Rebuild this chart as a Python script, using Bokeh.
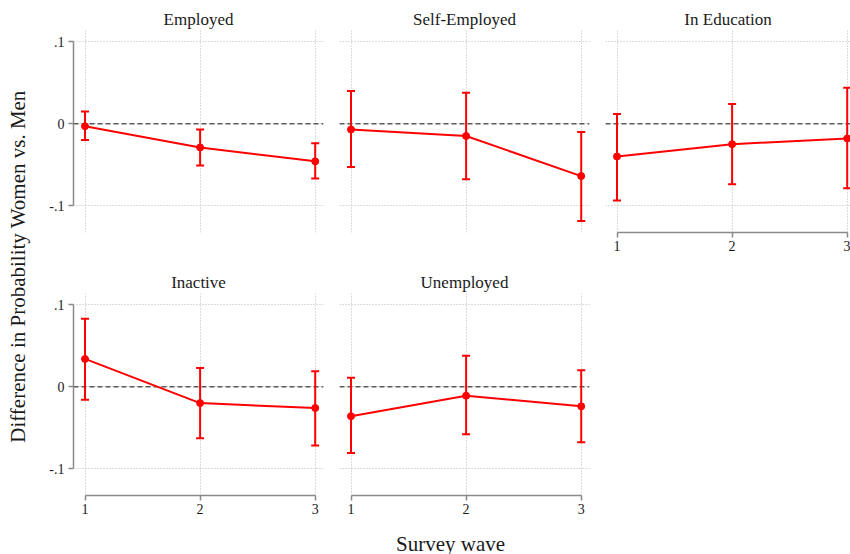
import math

from bokeh.core.properties import value
from bokeh.embed import file_html
from bokeh.layouts import column, row
from bokeh.models import ColumnDataSource, FixedTicker, LinearAxis, Span, TeeHead, Whisker
from bokeh.plotting import figure
from bokeh.resources import INLINE

# ---- data: gender gap (women - men) in probability of each labour status, by survey wave
waves = [1, 2, 3]
x_tick_labels = ["1", "2", "3"]
y_ticks = [-0.1, 0, 0.1]
y_tick_labels = ["-.1", "0", ".1"]

panel_titles = ["Employed", "Self-Employed", "In Education", "Inactive", "Unemployed"]

employed_est = [-0.003, -0.029, -0.046]
employed_lo = [-0.020, -0.051, -0.067]
employed_hi = [0.015, -0.007, -0.024]

self_emp_est = [-0.007, -0.015, -0.064]
self_emp_lo = [-0.053, -0.068, -0.119]
self_emp_hi = [0.040, 0.038, -0.010]

in_edu_est = [-0.040, -0.025, -0.018]
in_edu_lo = [-0.094, -0.074, -0.079]
in_edu_hi = [0.012, 0.024, 0.044]

inactive_est = [0.034, -0.020, -0.026]
inactive_lo = [-0.016, -0.063, -0.072]
inactive_hi = [0.083, 0.023, 0.019]

unemp_est = [-0.036, -0.011, -0.024]
unemp_lo = [-0.081, -0.058, -0.068]
unemp_hi = [0.011, 0.038, 0.020]

y_title = "Difference in Probability Women vs. Men"
x_title = "Survey wave"

SERIF = "Liberation Serif"
RED = "#ff0000"
AXIS_GRAY = "#8a8a8a"
TEXT = "#1a1a1a"

PX_PER_UNIT = 115.1
X_START = 0.9
Y_RANGE = (-0.133, 0.114)


def style_axis(axis):
    axis.axis_line_color = AXIS_GRAY
    axis.axis_line_width = 1.5
    axis.major_tick_line_color = AXIS_GRAY
    axis.major_tick_line_width = 1.5
    axis.major_tick_out = 5
    axis.major_tick_in = 0
    axis.minor_tick_line_color = None
    axis.major_label_text_font = SERIF
    axis.major_label_text_font_size = "14px"
    axis.major_label_text_color = TEXT


def panel(title, est, lo, hi, frame_w, left, right, top, bottom, yaxis, xaxis):
    x_end = X_START + frame_w / PX_PER_UNIT
    p = figure(
        width=left + frame_w + right,
        height=top + 202 + bottom,
        x_range=(X_START, x_end),
        y_range=Y_RANGE,
        x_axis_location=None,
        y_axis_location=None,
        min_border_left=left,
        min_border_right=right,
        min_border_top=top,
        min_border_bottom=bottom,
        title=title,
        toolbar_location=None,
        output_backend="svg",
    )
    p.outline_line_color = None
    p.background_fill_color = "white"
    p.border_fill_color = "white"

    p.title.align = "center"
    p.title.text_font = SERIF
    p.title.text_font_style = "normal"
    p.title.text_font_size = "17px"
    p.title.text_color = TEXT
    p.title.standoff = 3

    p.xgrid.ticker = FixedTicker(ticks=waves)
    p.ygrid.ticker = FixedTicker(ticks=y_ticks)
    for g in (p.xgrid, p.ygrid):
        g.grid_line_color = "#b8b8b8"
        g.grid_line_dash = "1 2"
        g.grid_line_width = 1

    if yaxis:
        ax = LinearAxis(
            ticker=FixedTicker(ticks=y_ticks),
            bounds=(-0.1, 0.1),
            major_label_overrides=dict(zip(y_ticks, y_tick_labels)),
            major_label_standoff=4,
        )
        style_axis(ax)
        p.add_layout(ax, "left")
    if xaxis:
        ax = LinearAxis(
            ticker=FixedTicker(ticks=waves),
            bounds=(1, 3),
            major_label_overrides=dict(zip(waves, x_tick_labels)),
            major_label_standoff=3,
        )
        style_axis(ax)
        p.add_layout(ax, "below")

    zero = Span(location=0, dimension="width", line_color="#5a5a5a",
                line_dash="5 3", line_width=1.3, level="underlay")
    p.add_layout(zero)

    src = ColumnDataSource(dict(x=waves, est=est, lo=lo, hi=hi))
    p.add_layout(Whisker(
        source=src, base="x", upper="hi", lower="lo",
        line_color=RED, line_width=2,
        upper_head=TeeHead(size=8, line_color=RED, line_width=2),
        lower_head=TeeHead(size=8, line_color=RED, line_width=2),
    ))
    p.line("x", "est", source=src, line_color=RED, line_width=2)
    p.scatter("x", "est", source=src, marker="circle", size=7,
              fill_color=RED, line_color=RED)
    return p


p1 = panel(panel_titles[0], employed_est, employed_lo, employed_hi, 250, 33, 8, 30, 29, True, False)
p2 = panel(panel_titles[1], self_emp_est, self_emp_lo, self_emp_hi, 250, 8, 8, 30, 29, False, False)
p3 = panel(panel_titles[2], in_edu_est, in_edu_lo, in_edu_hi, 245, 8, 0, 30, 29, False, True)
p4 = panel(panel_titles[3], inactive_est, inactive_lo, inactive_hi, 250, 33, 8, 32, 25, True, True)
p5 = panel(panel_titles[4], unemp_est, unemp_lo, unemp_hi, 250, 8, 8, 32, 25, False, True)


def text_strip(width, height):
    s = figure(width=width, height=height, x_range=(0, width), y_range=(0, height),
               x_axis_location=None, y_axis_location=None, min_border=0,
               title=None, toolbar_location=None, output_backend="svg")
    s.outline_line_color = None
    s.grid.visible = False
    s.border_fill_color = "white"
    s.background_fill_color = "white"
    return s


# overall y-axis title, rotated, spanning both rows
left = text_strip(40, 554)
left.text(x=[17], y=[288], text=[y_title], angle=math.pi / 2,
          text_font=value(SERIF), text_font_size="21px", text_color=TEXT,
          text_align="center", text_baseline="middle")

# overall x-axis title
bottom = text_strip(810, 34)
bottom.text(x=[410], y=[11], text=[x_title],
            text_font=value(SERIF), text_font_size="21px", text_color=TEXT,
            text_align="center", text_baseline="middle")

layout = row(left, column(row(p1, p2, p3), row(p4, p5), bottom))

with open("out.html", "w") as f:
    f.write(file_html(layout, INLINE))
